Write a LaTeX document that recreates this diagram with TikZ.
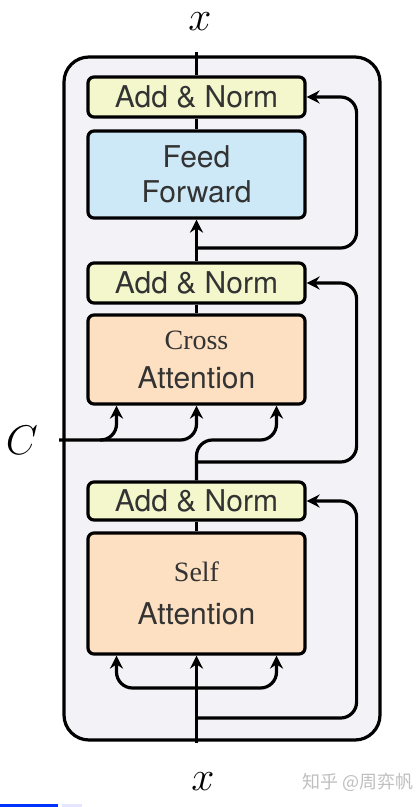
\documentclass[tikz,border=0pt]{standalone}
\usepackage{fontspec}
\usepackage{tikz}
\usetikzlibrary{positioning, arrows.meta, calc}
\newfontfamily\helv{TeX Gyre Heros}
\newfontfamily\tnr{Liberation Serif}
\newfontfamily\cjk{Noto Sans CJK SC}
\definecolor{normfill}{HTML}{F4F6CB}
\definecolor{fffill}{HTML}{CDE9F7}
\definecolor{attfill}{HTML}{FDDFC2}
\definecolor{blockfill}{HTML}{F2F2F7}
\tikzset{
  block/.style={draw, line width=1.6pt, rounded corners=3pt, minimum width=108.5pt,
    align=center, text=black!80, font=\helv\fontsize{15}{17.5}\selectfont},
  norm/.style={block, fill=normfill, minimum height=20pt},
  wire/.style={line width=1.6pt},
  arr/.style={wire, -{Stealth[length=6.5pt,width=6.5pt]}},
  label/.style={font=\fontsize{22}{22}\selectfont},
}

\begin{document}
\begin{tikzpicture}[x=0.5pt, y=-0.5pt]
            \useasboundingbox (0,0) rectangle (419,807);
            % Outer decoder layer
            \draw[line width=1.6pt, fill=blockfill, rounded corners=12.5pt] (64,57) rectangle (380,740);

            % Sub-layer boxes
            \node[norm] (addtop) at (196.5,97) {Add \& Norm};
            \node[block, fill=fffill, minimum height=43.5pt] (ff) at (196.5,174.5) {Feed\\Forward};
            \node[norm] (addmid) at (196.5,283) {Add \& Norm};
            \node[block, fill=attfill, minimum height=44.5pt] (cross) at (196.5,359.5)
                {{\tnr\fontsize{14}{15}\selectfont Cross}\\[2pt]Attention};
            \node[norm, minimum height=19pt] (addbot) at (196.5,501) {Add \& Norm};
            \node[block, fill=attfill, minimum height=60.5pt] (self) at (196.5,593.5)
                {{\tnr\fontsize{14}{15}\selectfont Self}\\[4pt]Attention};

            % Inputs and output
            \node[label] (xout) at (200,22) {$x$};
            \node[label] (xin) at (203,782) {$x$};
            \node[label] (C) at (22,440) {$C$};
            \coordinate (top) at (196.5,52);
            \coordinate (bot) at (196.5,743);

            % Main path
            \draw[wire] (addtop.north) -- (top);
            \draw[wire] (addtop.south) -- (ff.north);
            \draw[arr] (addmid.north) -- (ff.south);
            \draw[wire] (addmid.south) -- (cross.north);
            \draw[wire] (addbot.south) -- (self.north);
            \draw[arr] (bot) -- (self.south);

            % Self attention inputs
            \coordinate (fork) at (196.5,688);
            \draw[arr, rounded corners=8pt] (fork) -| ([xshift=-40pt]self.south);
            \draw[arr, rounded corners=8pt] (fork) -| ([xshift=40pt]self.south);

            % Cross attention inputs
            \coordinate (cfork) at (100,440);
            \draw[arr, rounded corners=8pt] ([xshift=7pt]C.east) -| (cross.south);
            \draw[arr, rounded corners=8pt] (cfork) -| ([xshift=-40pt]cross.south);
            \draw[arr, rounded corners=8pt] (addbot.north) -- (addbot.north |- C) -| ([xshift=40pt]cross.south);

            % Residual connections
            \coordinate (res1) at (196.5,248);
            \coordinate (res2) at (196.5,462);
            \coordinate (res3) at (196.5,718);
            \draw[arr, rounded corners=8pt] (res1) -| ([xshift=25pt]addtop.east) -- (addtop.east);
            \draw[arr, rounded corners=8pt] (res2) -| ([xshift=25pt]addmid.east) -- (addmid.east);
            \draw[arr, rounded corners=8pt] (res3) -| ([xshift=25pt]addbot.east) -- (addbot.east);

            % Watermark
            \node[text=black!25, font=\cjk\fontsize{9}{9}\selectfont] (mark) at (358,782) {知乎 @周弈帆};
            \fill[blue!80!cyan] (0,804) rectangle (58,807);
            \fill[blue!10] (62,804) rectangle (82,807);
        \end{tikzpicture}
\end{document}
